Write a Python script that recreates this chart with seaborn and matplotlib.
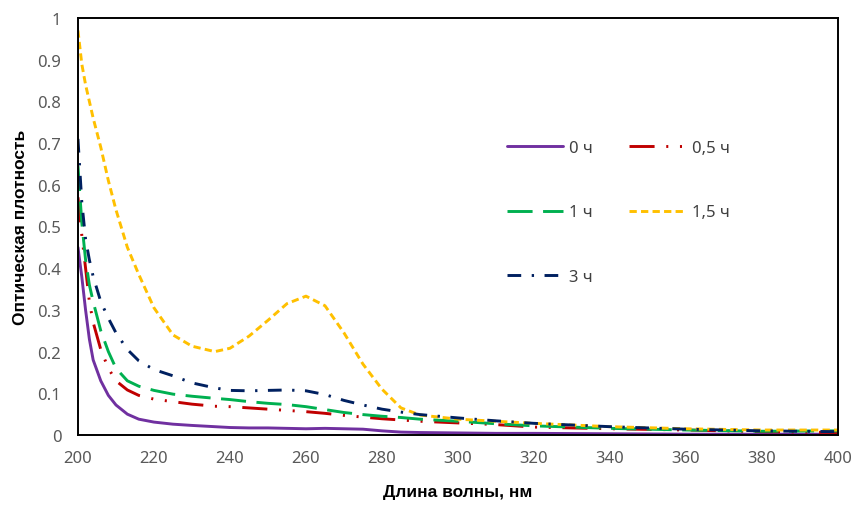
import matplotlib
matplotlib.use("Agg")
import matplotlib.pyplot as plt
import seaborn as sns
import pandas as pd
from matplotlib.ticker import FuncFormatter, MultipleLocator

wavelength = [200, 201, 202, 203, 204, 206, 208, 210, 213, 216, 220, 225, 230, 236, 240, 245,
              250, 255, 260, 265, 270, 275, 280, 285, 290, 300, 310, 320, 340, 360, 380, 400]

od_0h = [0.45, 0.38, 0.30, 0.23, 0.18, 0.13, 0.095, 0.072, 0.050, 0.038, 0.031, 0.026, 0.023, 0.020, 0.018, 0.017,
         0.017, 0.016, 0.015, 0.016, 0.015, 0.014, 0.010, 0.007, 0.006, 0.005, 0.004, 0.004, 0.003, 0.002, 0.002, 0.002]
od_05h = [0.57, 0.48, 0.40, 0.32, 0.27, 0.205, 0.16, 0.13, 0.108, 0.095, 0.086, 0.080, 0.074, 0.069, 0.068, 0.065,
          0.062, 0.059, 0.056, 0.052, 0.047, 0.043, 0.039, 0.036, 0.033, 0.029, 0.025, 0.019, 0.015, 0.012, 0.008, 0.006]
od_1h = [0.645, 0.51, 0.42, 0.36, 0.32, 0.25, 0.20, 0.16, 0.13, 0.117, 0.107, 0.098, 0.093, 0.088, 0.085, 0.080,
         0.076, 0.073, 0.068, 0.061, 0.054, 0.049, 0.045, 0.042, 0.038, 0.033, 0.027, 0.022, 0.016, 0.012, 0.009, 0.010]
od_15h = [0.97, 0.89, 0.84, 0.80, 0.76, 0.69, 0.61, 0.54, 0.45, 0.385, 0.305, 0.24, 0.213, 0.200, 0.208, 0.237,
          0.275, 0.315, 0.333, 0.310, 0.245, 0.170, 0.110, 0.065, 0.048, 0.038, 0.033, 0.028, 0.020, 0.015, 0.012, 0.012]
od_3h = [0.71, 0.56, 0.47, 0.42, 0.38, 0.32, 0.28, 0.245, 0.205, 0.178, 0.157, 0.142, 0.125, 0.113, 0.107, 0.106,
         0.107, 0.108, 0.106, 0.097, 0.083, 0.072, 0.062, 0.055, 0.049, 0.041, 0.034, 0.028, 0.020, 0.014, 0.010, 0.008]

labels = ["0 ч", "0,5 ч", "1 ч", "1,5 ч", "3 ч"]
series = [od_0h, od_05h, od_1h, od_15h, od_3h]
colors = ["#7030A0", "#C00000", "#00B050", "#FFC000", "#002060"]
dashes = [(None, None), (8.6, 4, 0.7, 4, 0.7, 4), (8.6, 3.6), (2.5, 1.45), (4.7, 3.6, 0.8, 3.6)]

sns.set_theme(style="white")
plt.rcParams["font.family"] = ["Noto Sans", "DejaVu Sans"]

fig = plt.figure(figsize=(8.53, 5.06), dpi=100)
ax = fig.add_axes([0.0914, 0.1383, 0.891, 0.8242])

handles = {}
for lab, vals, col, ds in zip(labels, series, colors, dashes):
    df = pd.DataFrame({"wl": wavelength, "od": vals})
    sns.lineplot(data=df, x="wl", y="od", ax=ax, color=col, linewidth=2.1, label=lab)
    line = ax.get_lines()[-1]
    if ds[0] is not None:
        line.set_dashes(ds)
    handles[lab] = line

ax.set_xlim(200, 400)
ax.set_ylim(0, 1)
ax.xaxis.set_major_locator(MultipleLocator(20))
ax.yaxis.set_major_locator(MultipleLocator(0.1))
ax.yaxis.set_major_formatter(FuncFormatter(lambda v, p: "%g" % round(v, 2)))
ax.tick_params(axis="x", colors="#595959", labelsize=12, length=0, pad=11)
ax.tick_params(axis="y", colors="#595959", labelsize=12, length=0, pad=12)

for sp in ax.spines.values():
    sp.set_color("black")
    sp.set_linewidth(1.4)

lab_font = dict(family=["Liberation Sans", "DejaVu Sans"], fontsize=12.5, fontweight="bold", color="black")
ax.set_xlabel("Длина волны, нм", labelpad=13, **lab_font)
ax.set_ylabel("Оптическая плотность", labelpad=7, **lab_font)

order = ["0 ч", "1 ч", "3 ч", "0,5 ч", "1,5 ч"]
leg = ax.legend([handles[o] for o in order], order, ncol=2, frameon=False,
                loc="upper left", bbox_to_anchor=(0.5445, 0.743), fontsize=12,
                handlelength=3.4, handletextpad=0.35, labelspacing=2.9, columnspacing=2.18)
for t in leg.get_texts():
    t.set_color("#404040")

fig.savefig("out.png", dpi=100)
